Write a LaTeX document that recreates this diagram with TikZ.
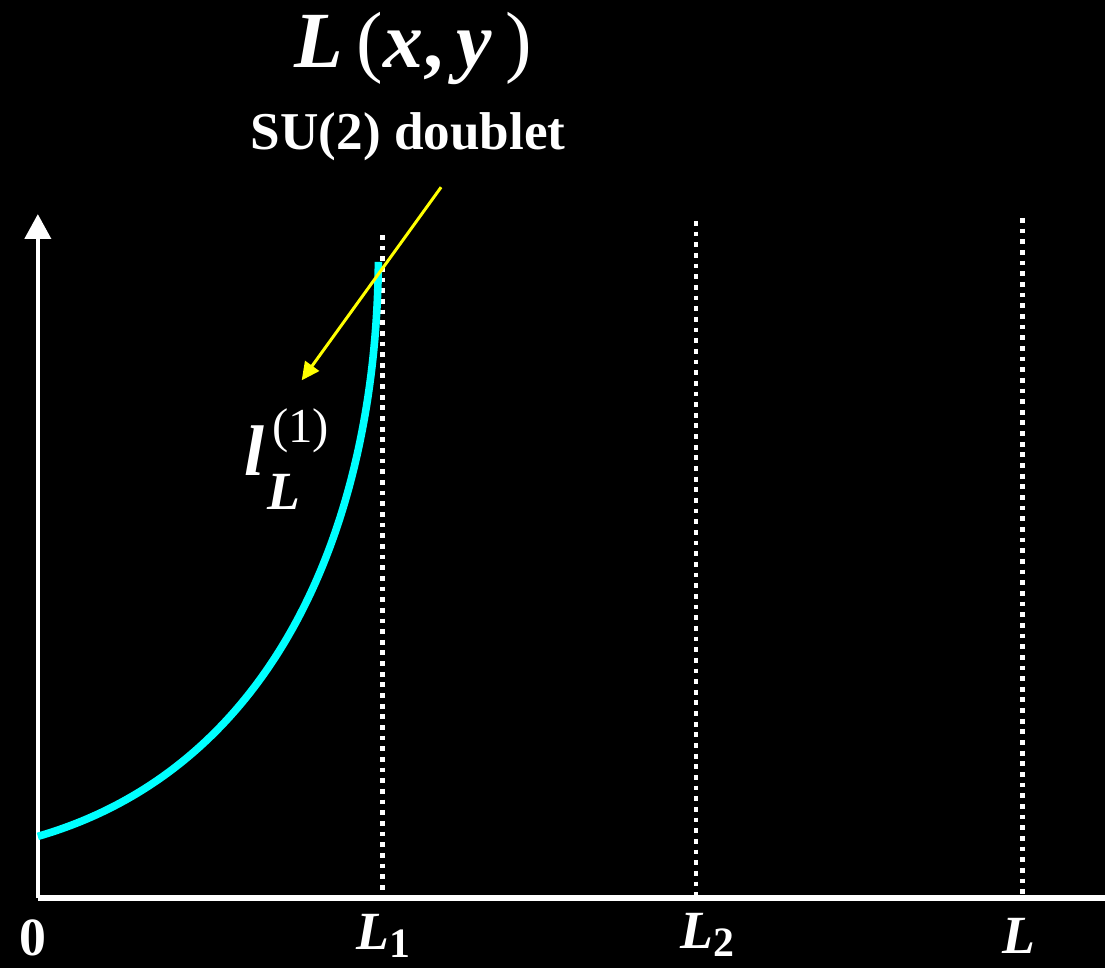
\documentclass[tikz,border=0pt]{standalone}
\usepackage{fontspec}
\setmainfont{Liberation Serif}
\usepackage{tikz}
\usetikzlibrary{
  arrows.meta,
  positioning
}
\definecolor{waveCyan}{HTML}{00FFFF}
\definecolor{noteYellow}{HTML}{FFFF00}
\tikzset{
  axisline/.style={white, line width=2.2pt},
  wall/.style={white, line width=2.4pt, dash pattern=on 2.4pt off 2.95pt},
  tick/.style={white, anchor=base west, inner sep=0pt, font=\bfseries\itshape\fontsize{27}{30}\selectfont},
}
\newcommand{\tickidx}[1]{\raisebox{-4pt}[\height][4pt]{\upshape\fontsize{21}{22}\selectfont #1}}

\begin{document}
\begin{tikzpicture}[x=0.5pt, y=-0.5pt]
  \fill[black] (0,0) rectangle (1110,972);
  % axes
  \coordinate (O) at (38,902);
  \coordinate (ytop) at (38,215);
  \coordinate (xend) at (1112,902);
  \draw[axisline, -{Triangle[length=12.5pt, width=13pt]}] (O) -- (ytop);
  \draw[white, line width=2.8pt] (O) -- (xend);
  % boundaries
  \foreach \xx/\yy/\nm in {384/236/1, 699/222/2, 1027/219/3} {
    \coordinate (top\nm) at (\xx,\yy);
    \coordinate (bot\nm) at (\xx,902);
    \draw[wall] (top\nm) -- (bot\nm);
  }
  % ticks
  \node[tick, font=\bfseries\fontsize{27}{30}\selectfont] (zero) at (19,960) {0};
  \node[tick] (Lone) at (358,954) {L\tickidx{1}};
  \node[tick] (Ltwo) at (683,953) {L\tickidx{2}};
  \node[tick] (Lend) at (1006,958) {L};
  % wave function
  \coordinate (w0) at (38,840);
  \coordinate (w1) at (380,263);
  \draw[waveCyan, line width=3.8pt] (w0) .. controls (280,770) and (378,520) .. (w1);
  \node[white, anchor=base west, inner sep=0pt, font=\bfseries\itshape\fontsize{36}{40}\selectfont] (ell) at (245,478)
    {l\rlap{\hspace{4pt}\raisebox{17pt}{\upshape\mdseries\fontsize{24.5}{26}\selectfont (1)}}\hspace{1.5pt}\raisebox{-17pt}{\fontsize{27}{28}\selectfont L}};
  % title
  \node[white, anchor=base, inner sep=0pt, font=\bfseries\fontsize{40}{46}\selectfont] (title) at (415,68)
    {\textit{L}\,{\mdseries(}\textit{x},\,\textit{y}\,{\mdseries)}};
  \node[white, anchor=base, inner sep=0pt, font=\bfseries\fontsize{26.7}{30}\selectfont] (doublet) at (410,150) {SU(2) doublet};
  % pointer
  \coordinate (pS) at (443,188);
  \coordinate (pE) at (303,382);
  \draw[noteYellow, line width=1.5pt, -{Triangle[length=9pt, width=8.5pt]}] (pS) -- (pE);
\end{tikzpicture}
\end{document}
